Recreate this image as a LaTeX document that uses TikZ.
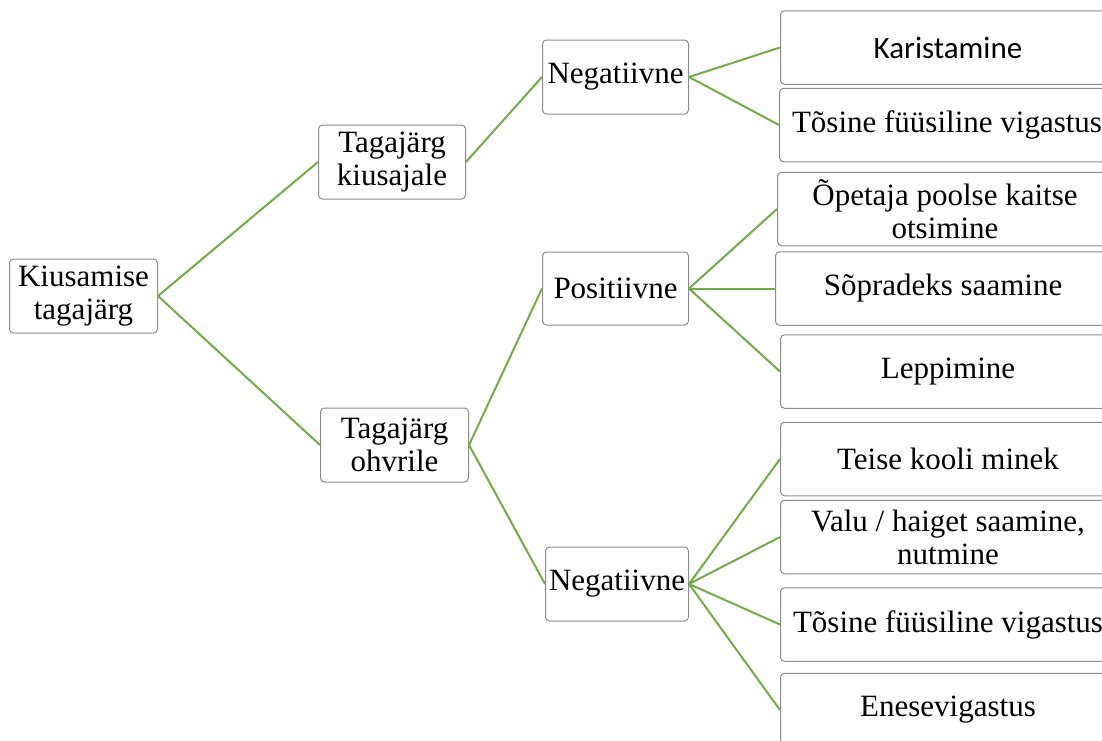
\documentclass[tikz,border=0pt]{standalone}
\usepackage{fontspec}
\setmainfont{Liberation Serif}
\newfontfamily\calib{Carlito}
\definecolor{lgreen}{HTML}{70AD47}
\definecolor{bgray}{HTML}{8C8C8C}
\begin{document}
\begin{tikzpicture}[x=1pt,y=-1pt,
  box/.style={draw=bgray,line width=1pt,rounded corners=4pt,fill=white,align=center,inner sep=0pt,
    font=\fontsize{31}{33}\selectfont},
  lvl/.style={box,minimum width=147pt,minimum height=74pt,anchor=west},
  leaf/.style={box,minimum width=335pt,minimum height=73.5pt,anchor=west},
  conn/.style={draw=lgreen,line width=2pt}]
\useasboundingbox (0,0) rectangle (1102,740);
\clip (0,0) rectangle (1102,740);
\node[lvl,minimum width=148pt] (root) at (9,296) {Kiusamise\\tagajärg};
\node[lvl] (tk) at (318,162) {Tagajärg\\kiusajale};
\node[lvl,minimum width=148pt] (to) at (320,445) {Tagajärg\\ohvrile};
\node[lvl,minimum width=146pt] (n1) at (542,77) {Negatiivne};
\node[lvl,minimum width=146pt,minimum height=73pt] (pos) at (542,288.5) {Positiivne};
\node[lvl,minimum width=143pt] (n2) at (545,584) {Negatiivne};
\node[leaf] (r1) at (780,47.5) {\calib Karistamine};
\node[leaf] (r2) at (779,125) {Tõsine füüsiline vigastus};
\node[leaf] (r3) at (777,209) {Õpetaja poolse kaitse\\otsimine};
\node[leaf] (r4) at (775,288.5) {Sõpradeks saamine};
\node[leaf] (r5) at (780,371.5) {Leppimine};
\node[leaf] (r6) at (780,459) {Teise kooli minek};
\node[leaf] (r7) at (780,537) {Valu / haiget saamine,\\nutmine};
\node[leaf] (r8) at (780,624.5) {Tõsine füüsiline vigastus};
\node[leaf] (r9) at (780,710) {Enesevigastus};
\draw[conn] (root.east) -- (tk.west);
\draw[conn] (root.east) -- (to.west);
\draw[conn] (tk.east) -- (n1.west);
\draw[conn] (to.east) -- (pos.west);
\draw[conn] (to.east) -- (n2.west);
\draw[conn] (n1.east) -- (r1.west);
\draw[conn] (n1.east) -- (r2.west);
\draw[conn] (pos.east) -- (r3.west);
\draw[conn] (pos.east) -- (r4.west);
\draw[conn] (pos.east) -- (r5.west);
\draw[conn] (n2.east) -- (r6.west);
\draw[conn] (n2.east) -- (r7.west);
\draw[conn] (n2.east) -- (r8.west);
\draw[conn] (n2.east) -- (r9.west);
\end{tikzpicture}
\end{document}
